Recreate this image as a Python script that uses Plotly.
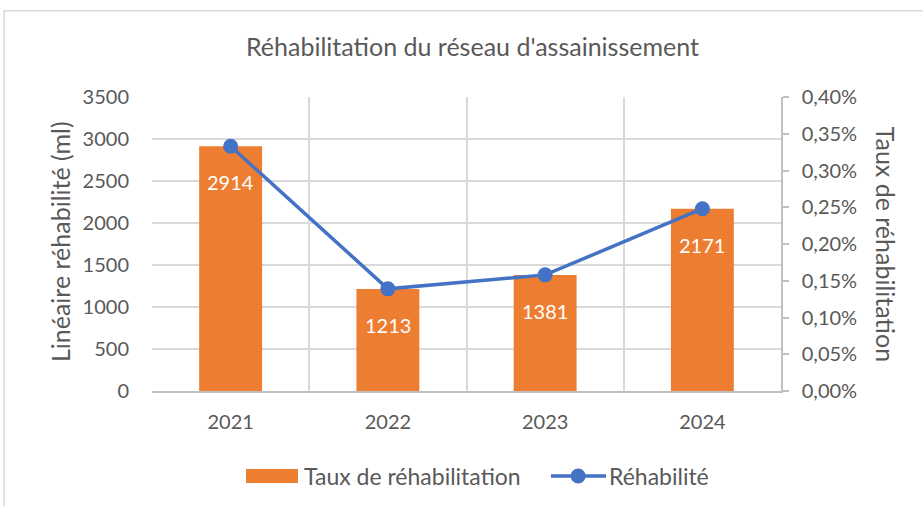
import plotly.graph_objects as go

annees = ["2021", "2022", "2023", "2024"]
lineaire_ml = [2914, 1213, 1381, 2171]
taux = [0.00333, 0.00139, 0.00158, 0.00248]

orange = "#ED7D31"
bleu = "#4472C4"
gris_txt = "#595959"
police = "Lato"

fig = go.Figure()
fig.add_bar(x=annees, y=lineaire_ml, marker=dict(color=orange, line=dict(width=0)),
            width=0.4, showlegend=False)
fig.add_scatter(x=annees, y=taux, yaxis="y2", mode="lines+markers",
                line=dict(color=bleu, width=3.5), marker=dict(color=bleu, size=15),
                showlegend=False)

# etiquettes de donnees dans les barres (x = rang de la categorie)
for i, v in enumerate(lineaire_ml):
    fig.add_annotation(x=i, y=v, text=str(v), showarrow=False, yshift=-36,
                       font=dict(color="white", size=20, family=police))

fig.update_layout(
    width=923, height=506,
    margin=dict(l=152, r=142, t=97, b=115),
    paper_bgcolor="white", plot_bgcolor="white",
    font=dict(family=police, color=gris_txt, size=20),
    separators=", ",
    xaxis=dict(type="category", range=[-0.5, 3.5], tickson="boundaries",
               showgrid=True, gridcolor="#D9D9D9", gridwidth=1.5,
               showline=True, linecolor="#BFBFBF", linewidth=1.5,
               ticks="", ticklabelstandoff=12, tickfont=dict(size=20)),
    yaxis=dict(range=[0, 3500], dtick=500, showgrid=True, gridcolor="#D9D9D9",
               gridwidth=1.5, zeroline=False, showline=False, ticks="",
               ticklabelstandoff=22, tickfont=dict(size=20)),
    yaxis2=dict(overlaying="y", side="right", range=[0, 0.004], dtick=0.0005,
                tickformat=".2%", showgrid=False, zeroline=False,
                showline=True, linecolor="#BFBFBF", linewidth=1.5,
                ticks="outside", ticklen=6, tickcolor="#BFBFBF", tickwidth=1.5,
                ticklabelstandoff=9, tickfont=dict(size=20)),
)

# titres
fig.add_annotation(xref="paper", yref="paper", x=0.51, y=1.173, xanchor="center", yanchor="middle",
                   text="Réhabilitation du réseau d'assainissement",
                   showarrow=False, font=dict(size=25, color=gris_txt))
fig.add_annotation(xref="paper", yref="paper", x=-0.146, y=0.507, xanchor="center", yanchor="middle",
                   text="Linéaire réhabilité (ml)",
                   textangle=-90, showarrow=False, font=dict(size=25, color=gris_txt))
fig.add_annotation(xref="paper", yref="paper", x=1.167, y=0.498, xanchor="center", yanchor="middle",
                   text="Taux de réhabilitation",
                   textangle=90, showarrow=False, font=dict(size=25, color=gris_txt))

# legende
fig.add_shape(type="rect", xref="paper", yref="paper", x0=0.1494, x1=0.2321, y0=-0.265, y1=-0.313,
              fillcolor=orange, line=dict(width=0))
fig.add_annotation(xref="paper", yref="paper", x=0.238, y=-0.289, xanchor="left", yanchor="middle",
                   text="Taux de réhabilitation", showarrow=False, font=dict(size=23, color=gris_txt))
fig.add_shape(type="line", xref="paper", yref="paper", x0=0.6343, x1=0.7218, y0=-0.289, y1=-0.289,
              line=dict(color=bleu, width=3.5))
fig.add_shape(type="circle", xref="paper", yref="paper", x0=0.6655, x1=0.6895, y0=-0.2635, y1=-0.3145,
              fillcolor=bleu, line=dict(width=0))
fig.add_annotation(xref="paper", yref="paper", x=0.723, y=-0.289, xanchor="left", yanchor="middle",
                   text="Réhabilité", showarrow=False, font=dict(size=23, color=gris_txt))

# cadre du graphique
fig.add_shape(type="rect", xref="paper", yref="paper", x0=-0.235, x1=1.235, y0=-0.41, y1=1.293,
              line=dict(color="#D9D9D9", width=1.5))

fig.write_html("out.html", config={"displayModeBar": False},
               post_script="document.body.style.margin='0';")
